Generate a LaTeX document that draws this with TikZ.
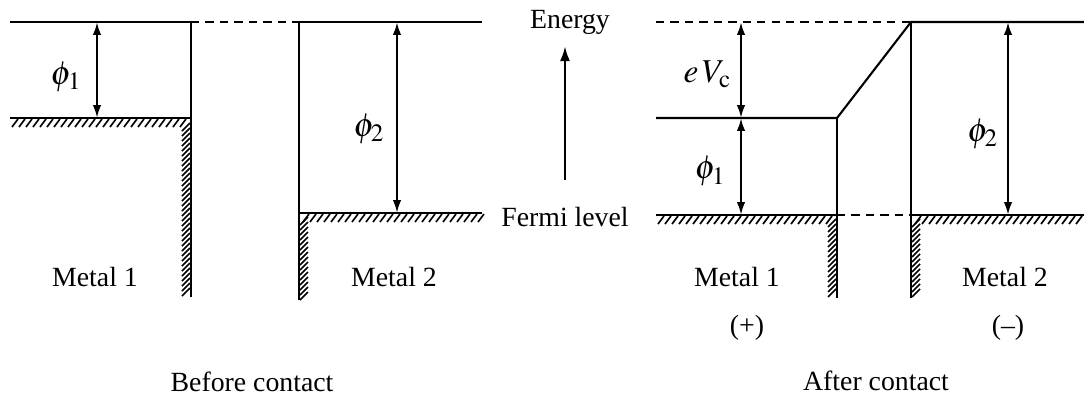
\documentclass[tikz,border=0pt]{standalone}
\usepackage{mathptmx}
\usepackage{fontspec}
\setmainfont{Liberation Serif}
\usetikzlibrary{arrows.meta}

\begin{document}
\begin{tikzpicture}[
  x=0.36pt,y=-0.36pt,
  level/.style={line width=0.75pt},
  vac/.style={line width=0.6pt,dash pattern=on 3pt off 2.2pt},
  hatch/.style={line width=0.6pt},
  gap/.style={{Latex[length=4.6pt,width=3pt]}-{Latex[length=4.6pt,width=3pt]},line width=0.8pt},
  up/.style={-{Latex[length=5.5pt,width=3.6pt]},line width=1pt},
  lbl/.style={font=\fontsize{10}{12}\selectfont,inner sep=1pt},
  sym/.style={font=\fontsize{12}{14}\selectfont,inner sep=1pt}
]
\useasboundingbox (0,0) rectangle (1084,396);

% before contact
\coordinate (vacA) at (10,22);
\coordinate (wallA) at (191,22);
\coordinate (fermiA) at (10,118);
\coordinate (cornerA) at (191,118);
\coordinate (footA) at (191,297);
\coordinate (wallB) at (299,22);
\coordinate (vacB) at (482,22);
\coordinate (cornerB) at (299,213);
\coordinate (fermiB) at (482,213);
\coordinate (footB) at (299,300);

\draw[level] (vacA) -- (wallA) -- (footA);
\draw[level] (fermiA) -- (cornerA);
\draw[vac] (wallA) -- (wallB);
\draw[level] (footB) -- (wallB) -- (vacB);
\draw[level] (cornerB) -- (fermiB);
\foreach \x in {12,19,...,186} \draw[hatch] (\x,127) -- ++(6,-8);
\foreach \y in {124,129,...,292} \draw[hatch] (182,\y+7) -- ++(8,-8);
\foreach \x in {303,310,...,478} \draw[hatch] (\x,222) -- ++(6,-8);
\foreach \y in {218,223,...,294} \draw[hatch] (300,\y+7) -- ++(8,-8);

\coordinate (a1) at (97,22);
\coordinate (b1) at (97,118);
\draw[gap] (a1) -- node[sym,left=4pt,pos=0.57] {$\phi_1$} (b1);
\coordinate (a2) at (397,22);
\coordinate (b2) at (397,213);
\draw[gap] (a2) -- node[sym,left=3pt,pos=0.56] {$\phi_2$} (b2);

\node[lbl] (m1A) at (95,277) {Metal 1};
\node[lbl] (m2A) at (394,277) {Metal 2};
\node[lbl] (before) at (252,382) {Before contact};

% energy axis
\node[lbl] (energy) at (570,22) {Energy};
\node[lbl] (fermi) at (565,217) {Fermi level};
\draw[up,shorten <=8.5pt,shorten >=3pt] (fermi.north) -- (fermi.north |- energy.south);

% after contact
\coordinate (vacC) at (656,22);
\coordinate (topD) at (911,22);
\coordinate (vacD) at (1084,22);
\coordinate (lvlC) at (656,118);
\coordinate (kneeC) at (837,118);
\coordinate (fermiC) at (656,215);
\coordinate (cornerC) at (837,215);
\coordinate (footC) at (837,298);
\coordinate (cornerD) at (911,215);
\coordinate (fermiD) at (1084,215);
\coordinate (footD) at (911,298);

\draw[vac] (vacC) -- (topD);
\draw[level] (lvlC) -- (kneeC) -- (topD) -- (vacD);
\draw[level] (kneeC) -- (footC);
\draw[level] (topD) -- (footD);
\draw[level] (fermiC) -- (cornerC);
\draw[vac] (cornerC) -- (cornerD);
\draw[level] (cornerD) -- (fermiD);
\foreach \x in {658,665,...,832} \draw[hatch] (\x,224) -- ++(6,-8);
\foreach \y in {220,225,...,293} \draw[hatch] (828,\y+7) -- ++(8,-8);
\foreach \x in {915,922,...,1080} \draw[hatch] (\x,224) -- ++(6,-8);
\foreach \y in {220,225,...,293} \draw[hatch] (912,\y+7) -- ++(8,-8);

\coordinate (c1) at (741,22);
\coordinate (c2) at (741,118);
\coordinate (c3) at (741,215);
\draw[gap] (c1) -- node[sym,left=2pt,pos=0.55] {$e\,V_{\mathrm{c}}$} (c2);
\draw[gap] (c2) -- node[sym,left=4pt,pos=0.55] {$\phi_1$} (c3);
\coordinate (d1) at (1008,22);
\coordinate (d2) at (1008,215);
\draw[gap] (d1) -- node[sym,left=2pt,pos=0.58] {$\phi_2$} (d2);

\node[lbl] (m1C) at (737,277) {Metal 1};
\node[lbl] (m2C) at (1005,277) {Metal 2};
\node[lbl] (plus) at (747,328) {(+)};
\node[lbl] (minus) at (1008,328) {(\textendash)};
\node[lbl] (after) at (876,381) {After contact};
\end{tikzpicture}
\end{document}
